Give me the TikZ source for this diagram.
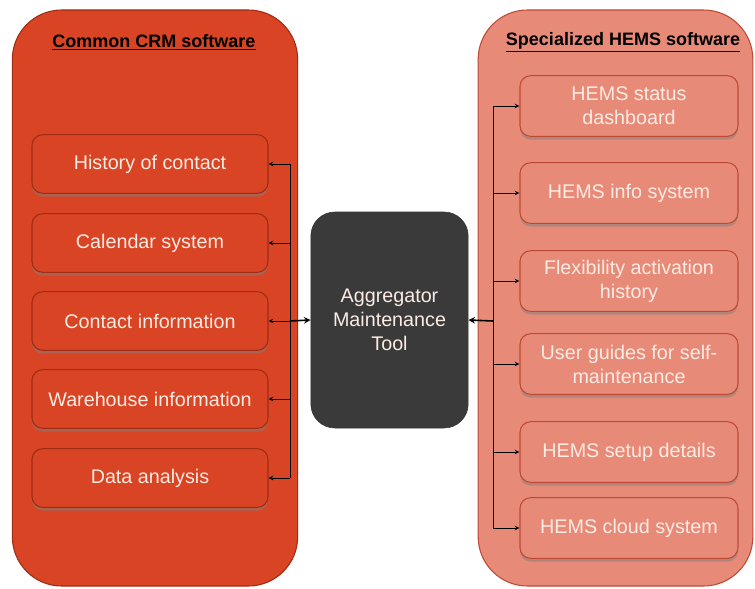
\documentclass[tikz,border=0pt]{standalone}
\usepackage{fontspec}
\setmainfont{Liberation Sans}
\usepackage{tikz}
\usetikzlibrary{arrows,shapes,positioning,shadows}
\usepackage{xcolor}
\definecolor{crmred}{RGB}{216,68,36}
\definecolor{crmdark}{RGB}{160,44,20}
\definecolor{hemsrose}{RGB}{232,138,120}
\definecolor{hemsdark}{RGB}{190,74,54}
\definecolor{tooldark}{RGB}{58,58,58}
\definecolor{boxtext}{RGB}{252,236,228}
\tikzstyle{panel} = [rectangle, rounded corners=37pt, thick, minimum width=214pt, minimum height=432pt]
\tikzstyle{crmbox} = [rectangle, rounded corners=8pt, minimum width=177pt, minimum height=44pt, text centered, draw=crmdark, fill=crmred, thick, text=boxtext, font=\fontsize{14.8}{18}\selectfont, drop shadow={opacity=0.5, shadow xshift=0pt, shadow yshift=-2.5pt}]
\tikzstyle{hemsbox} = [rectangle, rounded corners=8pt, minimum width=163.5pt, minimum height=45.5pt, align=center, draw=hemsdark, fill=hemsrose, thick, text=boxtext, font=\fontsize{14.8}{18}\selectfont, drop shadow={opacity=0.5, shadow xshift=0pt, shadow yshift=-2.5pt}]
\tikzstyle{title} = [font=\fontsize{13.5}{16}\selectfont\bfseries]
\tikzstyle{arrow} = [semithick,->,>=stealth,black]
\begin{document}
\begin{tikzpicture}[x=0.75pt, y=-0.75pt]
\useasboundingbox (0,0) rectangle (755,588);
% Panels
\node (crm) [panel, draw=crmdark, fill=crmred] at (155,298) {};
\node (hems) [panel, draw=hemsdark, fill=hemsrose, minimum width=206pt] at (615.5,298) {};
\node (crmtitle) [title] at (154,42) {\underline{Common CRM software}};
\node (hemstitle) [title] at (623,42) {\underline{Specialized HEMS software}};

% CRM boxes
\node (hist) [crmbox] at (150,164) {History of contact};
\node (cal) [crmbox] at (150,243) {Calendar system};
\node (cont) [crmbox] at (150,321) {Contact information};
\node (ware) [crmbox] at (150,399) {Warehouse information};
\node (data) [crmbox] at (150,478) {Data analysis};

% HEMS boxes
\node (status) [hemsbox] at (629,106) {HEMS status\\dashboard};
\node (info) [hemsbox] at (629,193) {HEMS info system};
\node (flex) [hemsbox] at (629,281) {Flexibility activation\\history};
\node (guide) [hemsbox] at (629,364) {User guides for self-\\maintenance};
\node (setup) [hemsbox] at (629,452) {HEMS setup details};
\node (cloud) [hemsbox] at (629,528) {HEMS cloud system};

% Tool
\node (tool) [rectangle, rounded corners=18pt, minimum width=118pt, minimum height=162pt, fill=tooldark, draw=black!80, align=center, text=boxtext, font=\fontsize{14.8}{18}\selectfont] at (389.5,320) {Aggregator\\Maintenance\\Tool};

% Buses
\coordinate (lbus) at (290,321);
\coordinate (rbus) at (493,321);
\draw[black, semithick] (hist.east -| lbus) -- (data.east -| lbus);
\draw[black, semithick] (status.west -| rbus) -- (cloud.west -| rbus);
\foreach \b in {hist,cal,cont,ware,data}
  \draw[arrow] (\b.east -| lbus) -- (\b.east);
\foreach \b in {status,info,flex,guide,setup,cloud}
  \draw[arrow] (\b.west -| rbus) -- (\b.west);
\draw[arrow, very thick] (lbus) -- (tool.west);
\draw[arrow, very thick] (rbus) -- (tool.east);
\end{tikzpicture}
\end{document}
